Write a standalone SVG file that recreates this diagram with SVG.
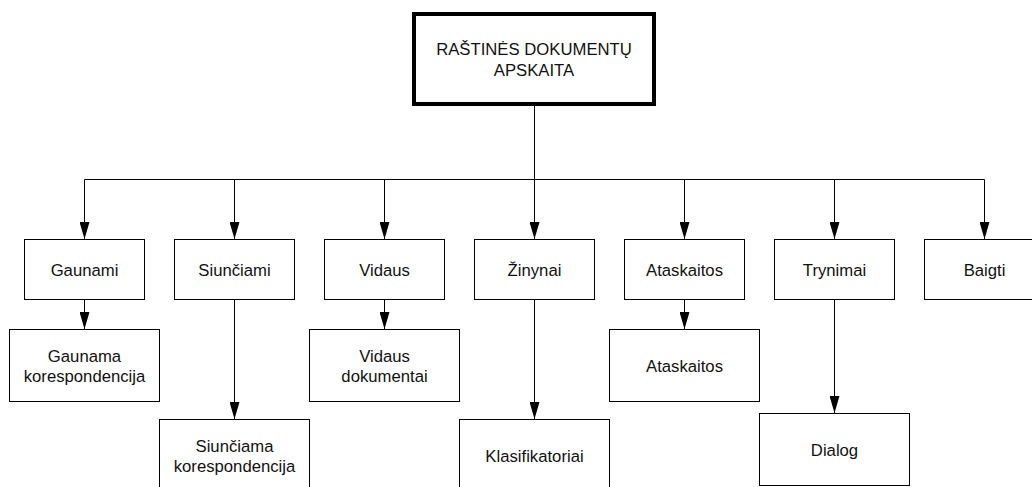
<svg xmlns="http://www.w3.org/2000/svg" width="1032" height="487" viewBox="0 0 1032 487">
<defs>
<style>
.box{fill:#fff;stroke:#000;stroke-width:1}
.main{fill:#fff;stroke:#000;stroke-width:4}
.t{font-family:"Liberation Sans",Arial,Helvetica,sans-serif;font-size:16.7px;fill:#111;text-anchor:middle}
.ln{fill:none;stroke:#000;stroke-width:1}
</style>
<marker id="ah" viewBox="0 0 17 10" refX="17" refY="5" markerWidth="17" markerHeight="10" markerUnits="userSpaceOnUse" orient="auto">
<path d="M0,0 L17,5 L0,10 Z" fill="#000"/>
</marker>
</defs>
<rect width="1032" height="487" fill="#fff"/>
<g id="connectors">
<path class="ln" d="M534.5,104 V179.5"/>
<path class="ln" d="M84.5,179.5 H984.5"/>
<path class="ln" d="M84.5,179.5 V239" marker-end="url(#ah)"/>
<path class="ln" d="M234.5,179.5 V239" marker-end="url(#ah)"/>
<path class="ln" d="M384.5,179.5 V239" marker-end="url(#ah)"/>
<path class="ln" d="M534.5,179.5 V239" marker-end="url(#ah)"/>
<path class="ln" d="M684.5,179.5 V239" marker-end="url(#ah)"/>
<path class="ln" d="M834.5,179.5 V239" marker-end="url(#ah)"/>
<path class="ln" d="M984.5,179.5 V239" marker-end="url(#ah)"/>
<path class="ln" d="M84.5,299.5 V329" marker-end="url(#ah)"/>
<path class="ln" d="M234.5,299.5 V419" marker-end="url(#ah)"/>
<path class="ln" d="M384.5,299.5 V329" marker-end="url(#ah)"/>
<path class="ln" d="M534.5,299.5 V419" marker-end="url(#ah)"/>
<path class="ln" d="M684.5,299.5 V329" marker-end="url(#ah)"/>
<path class="ln" d="M834.5,299.5 V413" marker-end="url(#ah)"/>
</g>
<g id="root">
<rect class="main" x="414" y="14" width="240" height="90"/>
<text class="t" x="534" y="55">RAŠTINĖS DOKUMENTŲ</text>
<text class="t" x="534" y="75.5">APSKAITA</text>
</g>
<g id="gaunami"><rect class="box" x="24.5" y="239.5" width="120" height="60"/><text class="t" x="84.5" y="275.5">Gaunami</text></g>
<g id="siunciami"><rect class="box" x="174.5" y="239.5" width="120" height="60"/><text class="t" x="234.5" y="275.5">Siunčiami</text></g>
<g id="vidaus"><rect class="box" x="324.5" y="239.5" width="120" height="60"/><text class="t" x="384.5" y="275.5">Vidaus</text></g>
<g id="zinynai"><rect class="box" x="474.5" y="239.5" width="120" height="60"/><text class="t" x="534.5" y="275.5">Žinynai</text></g>
<g id="ataskaitos"><rect class="box" x="624.5" y="239.5" width="120" height="60"/><text class="t" x="684.5" y="275.5">Ataskaitos</text></g>
<g id="trynimai"><rect class="box" x="774.5" y="239.5" width="120" height="60"/><text class="t" x="834.5" y="275.5">Trynimai</text></g>
<g id="baigti"><rect class="box" x="924.5" y="239.5" width="120" height="60"/><text class="t" x="984.5" y="275.5">Baigti</text></g>
<g id="gaunama-korespondencija"><rect class="box" x="9.5" y="329.5" width="150" height="72"/><text class="t" x="84.5" y="361.5">Gaunama</text><text class="t" x="84.5" y="381.5">korespondencija</text></g>
<g id="siunciama-korespondencija"><rect class="box" x="159.5" y="419.5" width="150" height="72"/><text class="t" x="234.5" y="451.5">Siunčiama</text><text class="t" x="234.5" y="471.5">korespondencija</text></g>
<g id="vidaus-dokumentai"><rect class="box" x="309.5" y="329.5" width="150" height="72"/><text class="t" x="384.5" y="361.5">Vidaus</text><text class="t" x="384.5" y="381.5">dokumentai</text></g>
<g id="klasifikatoriai"><rect class="box" x="459.5" y="419.5" width="150" height="72"/><text class="t" x="534.5" y="462">Klasifikatoriai</text></g>
<g id="ataskaitos-2"><rect class="box" x="609.5" y="329.5" width="150" height="72"/><text class="t" x="684.5" y="371.5">Ataskaitos</text></g>
<g id="dialog"><rect class="box" x="759.5" y="413.5" width="150" height="72"/><text class="t" x="834.5" y="455.5">Dialog</text></g>
</svg>
